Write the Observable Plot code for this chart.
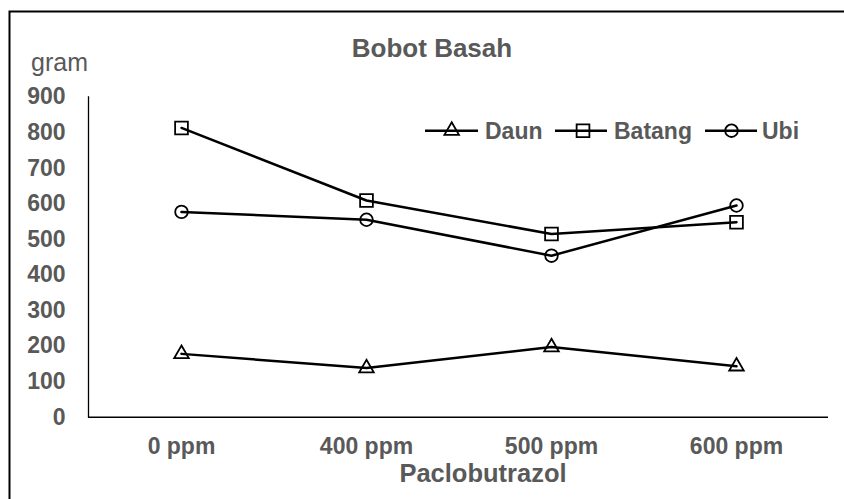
<!DOCTYPE html>
<html>
<head>
<meta charset="utf-8">
<script src="https://cdn.jsdelivr.net/npm/d3@7"></script>
<script src="https://cdn.jsdelivr.net/npm/@observablehq/plot@0.6"></script>
<style>
  html, body { margin: 0; padding: 0; background: #fff; }
  #chart { width: 844px; height: 499px; overflow: hidden; }
</style>
</head>
<body>
<div id="chart"></div>
<script>
const categories = ["0 ppm", "400 ppm", "500 ppm", "600 ppm"];
const daun = [178, 138, 197, 143];
const batang = [813, 609, 515, 548];
const ubi = [577, 555, 454, 595];
const yTicks = [0, 100, 200, 300, 400, 500, 600, 700, 800, 900];
const seriesNames = ["Daun", "Batang", "Ubi"];

const rows = [];
[daun, batang, ubi].forEach((vals, s) => {
  vals.forEach((v, i) => rows.push({series: seriesNames[s], cat: categories[i], value: v}));
});

const textColor = "#595959";
const font = "'Liberation Sans', Arial, sans-serif";

const plot = Plot.plot({
  width: 844,
  height: 499,
  marginLeft: 88,
  marginRight: 16,
  marginTop: 96.5,
  marginBottom: 82.3,
  style: {fontFamily: font, fontSize: "23px", fontWeight: "bold", color: textColor, background: "#fff", overflow: "hidden"},
  x: {type: "point", domain: categories, padding: 0.5, align: 0.5},
  y: {domain: [0, 900]},
  marks: [
    Plot.axisY({ticks: yTicks, tickSize: 0, tickPadding: 23, label: null, fill: textColor}),
    Plot.axisX({tickSize: 0, tickPadding: 20, label: null, fill: textColor}),
    Plot.ruleY([0], {stroke: "#000", strokeWidth: 1.6}),
    Plot.frame({anchor: "left", stroke: "#000", strokeWidth: 1.3}),
    Plot.line(rows, {x: "cat", y: "value", z: "series", stroke: "#000", strokeWidth: 2.5}),
    Plot.dot(rows.filter(d => d.series === "Daun"), {x: "cat", y: "value", symbol: "triangle", r: 5.4, fill: "none", stroke: "#000", strokeWidth: 1.8}),
    Plot.dot(rows.filter(d => d.series === "Batang"), {x: "cat", y: "value", symbol: "square", r: 7.2, fill: "none", stroke: "#000", strokeWidth: 1.8}),
    Plot.dot(rows.filter(d => d.series === "Ubi"), {x: "cat", y: "value", symbol: "circle", r: 6.3, fill: "none", stroke: "#000", strokeWidth: 1.8})
  ]
});

document.getElementById("chart").appendChild(plot);

const svg = d3.select(plot);

// outer chart border: only its top and left edges fall inside the picture
svg.append("path")
  .attr("d", "M9.5,499 L9.5,11.5 L844,11.5")
  .attr("fill", "none").attr("stroke", "#000").attr("stroke-width", 2);

// title
svg.append("text")
  .attr("x", 432).attr("y", 57)
  .attr("text-anchor", "middle")
  .attr("fill", textColor)
  .style("font-size", "26px").style("font-weight", "bold")
  .text("Bobot Basah");

// y unit label
svg.append("text")
  .attr("x", 31).attr("y", 71)
  .attr("text-anchor", "start")
  .attr("fill", textColor)
  .style("font-size", "25px").style("font-weight", "normal")
  .text("gram");

// x axis title
svg.append("text")
  .attr("x", 483).attr("y", 482)
  .attr("text-anchor", "middle")
  .attr("fill", textColor)
  .style("font-size", "25.5px").style("font-weight", "bold")
  .text("Paclobutrazol");

// legend
const legendY = 130.7;
const legendItems = [
  {name: "Daun", x1: 425, x2: 478, cx: 451.7, tx: 485, symbol: d3.symbolTriangle, r: 5.4},
  {name: "Batang", x1: 555, x2: 607, cx: 583, tx: 614, symbol: d3.symbolSquare, r: 7.2},
  {name: "Ubi", x1: 705, x2: 757, cx: 731.5, tx: 762, symbol: d3.symbolCircle, r: 6.3}
];
const lg = svg.append("g");
legendItems.forEach(it => {
  lg.append("line")
    .attr("x1", it.x1).attr("x2", it.x2)
    .attr("y1", legendY).attr("y2", legendY)
    .attr("stroke", "#000").attr("stroke-width", 2.5);
  lg.append("path")
    .attr("transform", `translate(${it.cx},${legendY})`)
    .attr("d", d3.symbol(it.symbol, it.r * it.r * Math.PI)())
    .attr("fill", "none").attr("stroke", "#000").attr("stroke-width", 1.8);
  lg.append("text")
    .attr("x", it.tx).attr("y", legendY + 8)
    .attr("text-anchor", "start")
    .attr("fill", textColor)
    .style("font-size", "23px").style("font-weight", "bold")
    .text(it.name);
});
</script>
</body>
</html>
